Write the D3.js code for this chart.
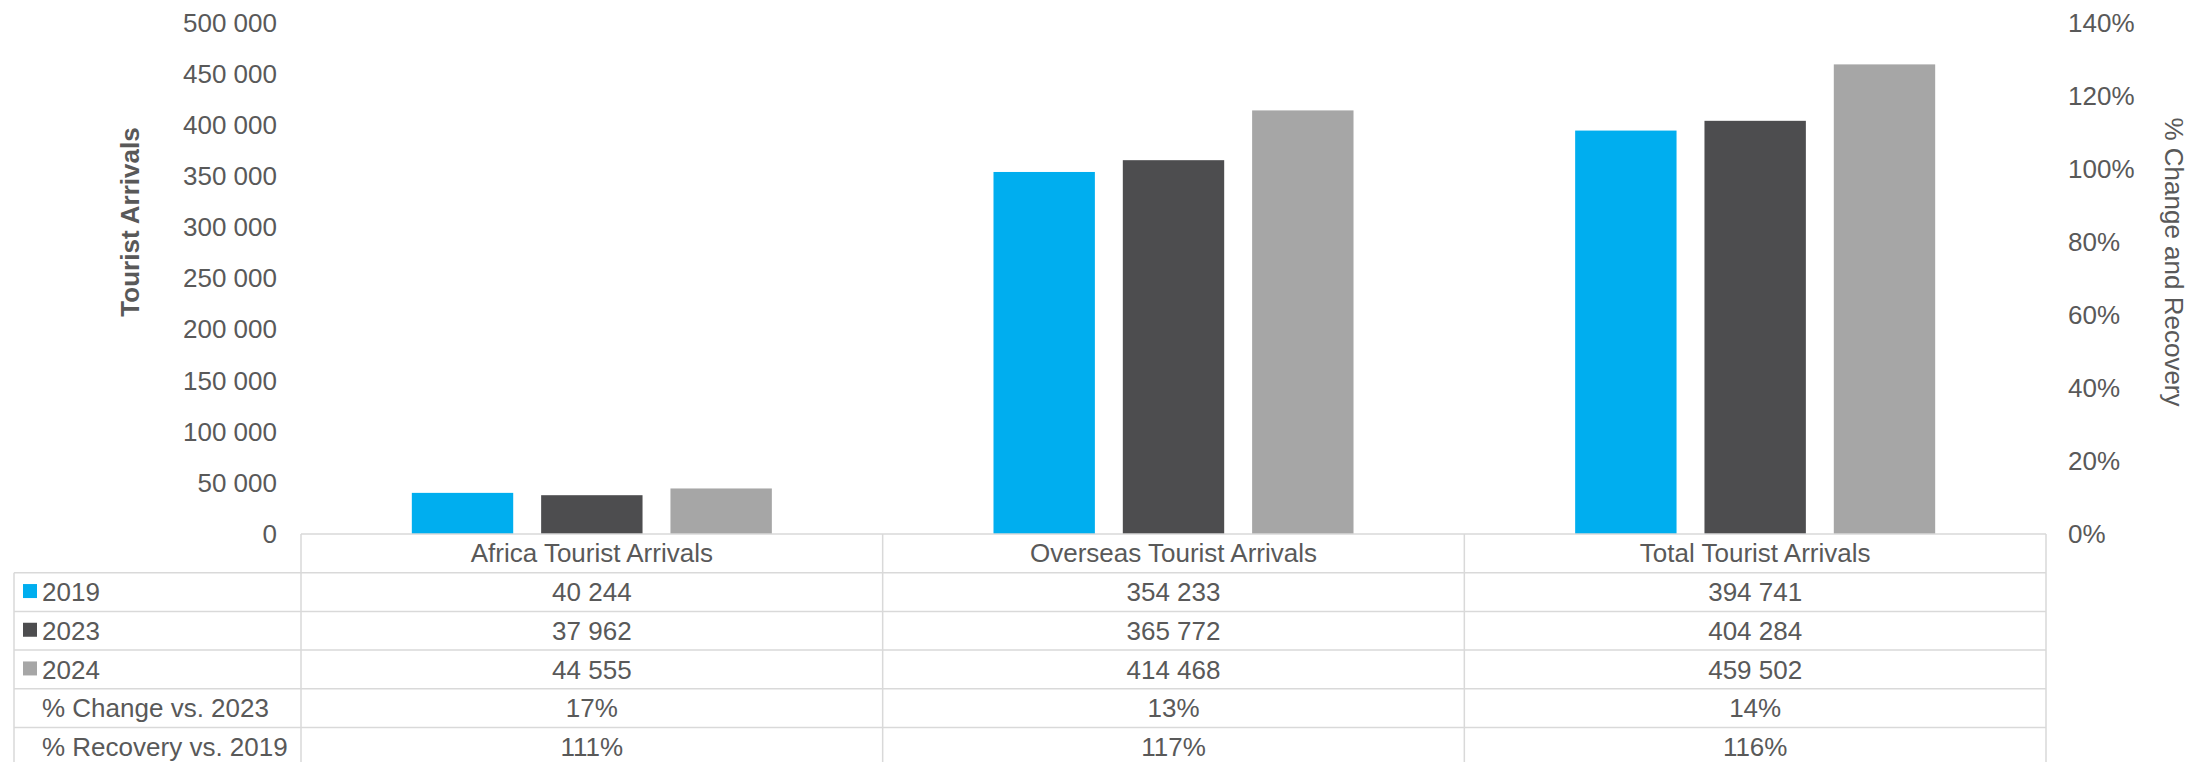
<!DOCTYPE html>
<html>
<head>
<meta charset="utf-8">
<script src="https://cdn.jsdelivr.net/npm/d3@7"></script>
<style>
  html, body { margin: 0; padding: 0; background: #fff; }
  svg text { font-family: Arial, "Liberation Sans", sans-serif; fill: #595959; }
</style>
</head>
<body>
<svg id="chart"></svg>
<script>
// Data
const categories = ['Africa Tourist Arrivals', 'Overseas Tourist Arrivals', 'Total Tourist Arrivals'];
const years = ['2019', '2023', '2024'];
const arrivals2019 = [40244, 354233, 394741];
const arrivals2023 = [37962, 365772, 404284];
const arrivals2024 = [44555, 414468, 459502];
const pctChange = [17, 13, 14];     // % change vs. 2023
const pctRecovery = [111, 117, 116]; // % recovery vs. 2019
const leftTicks = [0, 50000, 100000, 150000, 200000, 250000, 300000, 350000, 400000, 450000, 500000];
const rightTicks = [0, 0.2, 0.4, 0.6, 0.8, 1.0, 1.2, 1.4];

const yearColors = ['#00AEEF', '#4D4D4F', '#A6A6A6'];
const series = [arrivals2019, arrivals2023, arrivals2024];

const width = 2208;
const height = 762;
const plotLeft = 301;
const plotRight = 2046;
const plotTop = 23;
const plotBottom = 534;
const tableLeft = 14;
const rowH = 38.7;
const fontSize = 26;
const lineColor = '#D9D9D9';

const locale = d3.formatLocale({ decimal: '.', thousands: ' ', grouping: [3], currency: ['', ''] });
const fmtNum = locale.format(',d');

const svg = d3.select('#chart')
  .attr('width', width)
  .attr('height', height);

// Scales
const x0 = d3.scaleBand()
  .domain(categories)
  .range([plotLeft, plotRight]);

const x1 = d3.scaleBand()
  .domain(years)
  .range([0, x0.bandwidth()])
  .paddingInner(0.216)
  .paddingOuter(0.857);

const yLeft = d3.scaleLinear()
  .domain([0, 500000])
  .range([plotBottom, plotTop]);

const yRight = d3.scaleLinear()
  .domain([0, 1.4])
  .range([plotBottom, plotTop]);

// Bars
const groups = svg.selectAll('g.cat')
  .data(categories)
  .enter()
  .append('g')
  .attr('class', 'cat')
  .attr('transform', d => `translate(${x0(d)},0)`);

groups.selectAll('rect')
  .data((d, i) => years.map((y, j) => ({ year: y, value: series[j][i], color: yearColors[j] })))
  .enter()
  .append('rect')
  .attr('x', d => x1(d.year))
  .attr('y', d => yLeft(d.value))
  .attr('width', x1.bandwidth())
  .attr('height', d => plotBottom - yLeft(d.value))
  .attr('fill', d => d.color);

// Axes
const yAxisLeft = d3.axisLeft(yLeft)
  .tickValues(leftTicks)
  .tickSize(0)
  .tickPadding(24)
  .tickFormat(fmtNum);

const yAxisRight = d3.axisRight(yRight)
  .tickValues(rightTicks)
  .tickSize(0)
  .tickPadding(22)
  .tickFormat(d3.format('.0%'));

const leftG = svg.append('g')
  .attr('transform', `translate(${plotLeft},0)`)
  .call(yAxisLeft);

const rightG = svg.append('g')
  .attr('transform', `translate(${plotRight},0)`)
  .call(yAxisRight);

[leftG, rightG].forEach(g => {
  g.select('.domain').remove();
  g.selectAll('text')
    .attr('font-size', fontSize)
    .attr('font-family', 'Arial, "Liberation Sans", sans-serif')
    .attr('fill', '#595959');
});

// Axis titles
svg.append('text')
  .attr('transform', 'translate(130, 222) rotate(-90)')
  .attr('text-anchor', 'middle')
  .attr('dominant-baseline', 'central')
  .attr('font-size', fontSize)
  .attr('font-weight', 'bold')
  .text('Tourist Arrivals');

svg.append('text')
  .attr('transform', 'translate(2174, 262) rotate(90)')
  .attr('text-anchor', 'middle')
  .attr('dominant-baseline', 'central')
  .attr('font-size', fontSize)
  .text('% Change and Recovery');

// Data table
const rowKeys = ['header', '2019', '2023', '2024', 'change', 'recovery'];
const yRow = d3.scaleBand()
  .domain(rowKeys)
  .range([plotBottom, plotBottom + rowKeys.length * rowH]);

const tableRows = [
  { key: '2019', label: '2019', color: yearColors[0], cells: arrivals2019.map(fmtNum) },
  { key: '2023', label: '2023', color: yearColors[1], cells: arrivals2023.map(fmtNum) },
  { key: '2024', label: '2024', color: yearColors[2], cells: arrivals2024.map(fmtNum) },
  { key: 'change', label: '% Change vs. 2023', color: null, cells: pctChange.map(d => d + '%') },
  { key: 'recovery', label: '% Recovery vs. 2019', color: null, cells: pctRecovery.map(d => d + '%') }
];

const table = svg.append('g').attr('class', 'table');

// horizontal lines
table.append('line')
  .attr('x1', plotLeft).attr('x2', plotRight)
  .attr('y1', yRow('header')).attr('y2', yRow('header'));
rowKeys.slice(1).forEach(k => {
  table.append('line')
    .attr('x1', tableLeft).attr('x2', plotRight)
    .attr('y1', yRow(k)).attr('y2', yRow(k));
});
// vertical lines
table.append('line')
  .attr('x1', tableLeft).attr('x2', tableLeft)
  .attr('y1', yRow('2019')).attr('y2', height);
categories.forEach(c => {
  table.append('line')
    .attr('x1', x0(c)).attr('x2', x0(c))
    .attr('y1', plotBottom).attr('y2', height);
});
table.append('line')
  .attr('x1', plotRight).attr('x2', plotRight)
  .attr('y1', plotBottom).attr('y2', height);

table.selectAll('line')
  .attr('stroke', lineColor)
  .attr('stroke-width', 1.5);

// header text
table.selectAll('text.head')
  .data(categories)
  .enter()
  .append('text')
  .attr('class', 'head')
  .attr('x', d => x0(d) + x0.bandwidth() / 2)
  .attr('y', yRow('header') + rowH / 2)
  .attr('text-anchor', 'middle')
  .attr('dy', '0.35em')
  .attr('font-size', fontSize)
  .text(d => d);

// rows
tableRows.forEach(r => {
  const cy = yRow(r.key) + rowH / 2;
  if (r.color) {
    table.append('rect')
      .attr('x', 23)
      .attr('y', cy - 8)
      .attr('width', 14)
      .attr('height', 14)
      .attr('fill', r.color);
  }
  table.append('text')
    .attr('x', 42)
    .attr('y', cy)
    .attr('dy', '0.35em')
    .attr('font-size', fontSize)
    .text(r.label);

  table.selectAll(null)
    .data(r.cells)
    .enter()
    .append('text')
    .attr('x', (d, i) => x0(categories[i]) + x0.bandwidth() / 2)
    .attr('y', cy)
    .attr('dy', '0.35em')
    .attr('text-anchor', 'middle')
    .attr('font-size', fontSize)
    .text(d => d);
});
</script>
</body>
</html>
